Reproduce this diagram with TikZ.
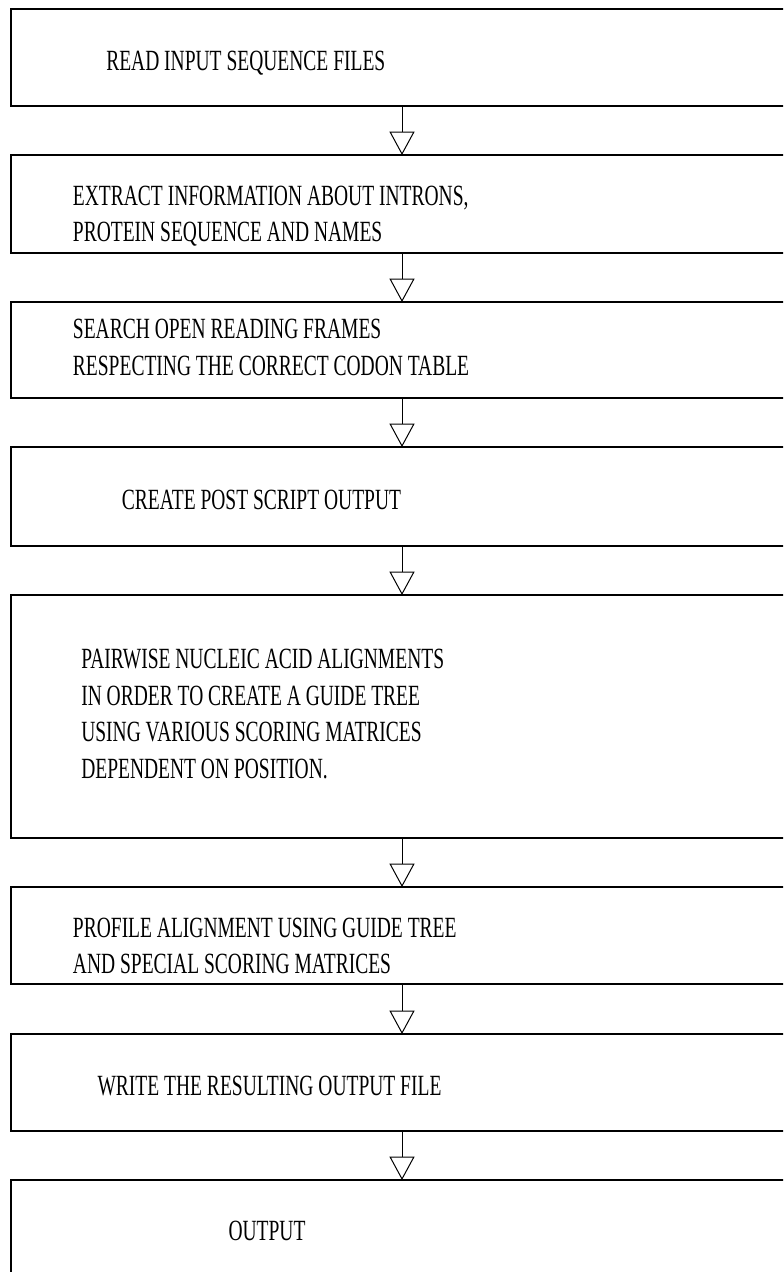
\documentclass[tikz,border=0pt]{standalone}
\usepackage{fontspec}
\setmainfont{Liberation Serif}
% tall, narrow serif lettering used in every box
\newfontfamily\stepfont[FakeStretch=0.665]{Liberation Serif}
\usetikzlibrary{arrows.meta}
\begin{document}
\begin{tikzpicture}[x=0.75pt,y=-0.75pt,
  stepbox/.style={draw, line width=0.9pt, inner sep=0pt, outer sep=0pt,
                  minimum width=586.5pt},
  lbl/.style={inner sep=0pt, anchor=base west,
              font=\stepfont\fontsize{22}{27}\selectfont},
  flow/.style={line width=0.75pt,
               -{Triangle[open, length=17.5pt, width=18.75pt, line width=0.75pt]}}]
\useasboundingbox (0,0) rectangle (783,1272);
\clip (0,0) rectangle (783,1272);

% process boxes (they run past the right and bottom edges)
\node[stepbox, minimum height=72.75pt]  (b1) at (402,57.5)  {};
\node[stepbox, minimum height=73.5pt]   (b2) at (402,204)   {};
\node[stepbox, minimum height=72pt]     (b3) at (402,350)   {};
\node[stepbox, minimum height=74.25pt]  (b4) at (402,496.5) {};
\node[stepbox, minimum height=182.25pt] (b5) at (402,716.5) {};
\node[stepbox, minimum height=72.75pt]  (b6) at (402,935.5) {};
\node[stepbox, minimum height=72.75pt]  (b7) at (402,1082.5){};
\node[stepbox, minimum height=82.5pt]   (b8) at (402,1235)  {};

% box texts
\node[lbl] (t1)  at (106,70)    {READ INPUT SEQUENCE FILES};
\node[lbl] (t2a) at (72.7,205)  {EXTRACT INFORMATION ABOUT INTRONS,};
\node[lbl] (t2b) at (72.7,241)  {PROTEIN SEQUENCE AND NAMES};
\node[lbl] (t3a) at (72.7,338)  {SEARCH OPEN READING FRAMES};
\node[lbl] (t3b) at (72.7,375)  {RESPECTING THE CORRECT CODON TABLE};
\node[lbl] (t4)  at (121.7,509) {CREATE POST SCRIPT OUTPUT};
\node[lbl] (t5a) at (81,668)    {PAIRWISE NUCLEIC ACID ALIGNMENTS};
\node[lbl] (t5b) at (81,705)    {IN ORDER TO CREATE A GUIDE TREE};
\node[lbl] (t5c) at (81,741.5)  {USING VARIOUS SCORING MATRICES};
\node[lbl] (t5d) at (81,778)    {DEPENDENT ON POSITION.};
\node[lbl] (t6a) at (72.7,937)  {PROFILE ALIGNMENT USING GUIDE TREE};
\node[lbl] (t6b) at (72.7,973)  {AND SPECIAL SCORING MATRICES};
\node[lbl] (t7)  at (97.3,1095) {WRITE THE RESULTING OUTPUT FILE};
\node[lbl] (t8)  at (228.3,1240.5) {OUTPUT};

% connectors
\draw[flow] (b1.south) -- (b2.north);
\draw[flow] (b2.south) -- (b3.north);
\draw[flow] (b3.south) -- (b4.north);
\draw[flow] (b4.south) -- (b5.north);
\draw[flow] (b5.south) -- (b6.north);
\draw[flow] (b6.south) -- (b7.north);
\draw[flow] (b7.south) -- (b8.north);
\end{tikzpicture}
\end{document}
